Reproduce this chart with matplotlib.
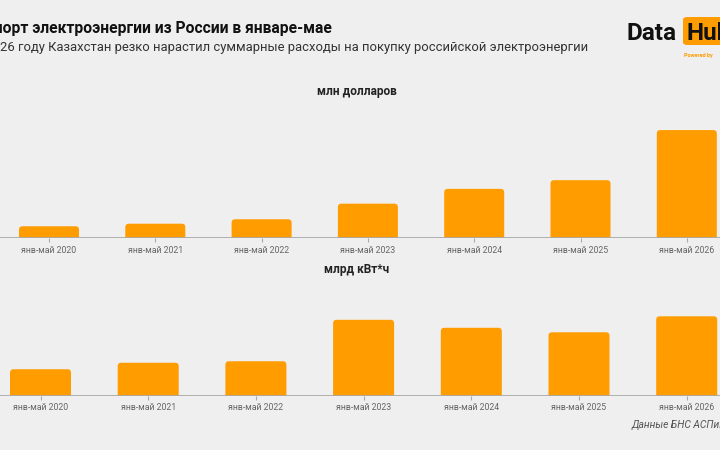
import matplotlib
matplotlib.use("Agg")
import matplotlib.pyplot as plt
from matplotlib.patches import FancyBboxPatch

categories = ["янв-май 2020", "янв-май 2021", "янв-май 2022", "янв-май 2023",
              "янв-май 2024", "янв-май 2025", "янв-май 2026"]
usd_mln = [10.8, 13.1, 17.1, 31.1, 44.4, 52.2, 97.2]
kwh_bn = [0.53, 0.66, 0.69, 1.52, 1.36, 1.27, 1.59]

title = "Импорт электроэнергии из России в январе-мае"
subtitle = "В 2026 году Казахстан резко нарастил суммарные расходы на покупку российской электроэнергии"
panel1 = "млн долларов"
panel2 = "млрд кВт*ч"
source = "Данные БНС АСПиР РК"

BG = "#efefef"
ORANGE = "#ff9c00"
FONT = ["Roboto", "DejaVu Sans"]
plt.rcParams["font.family"] = FONT

W, H = 720, 450
fig = plt.figure(figsize=(7.2, 4.5), dpi=100, facecolor=BG)


def px_axes(left, top, right, bottom):
    return fig.add_axes([left / W, 1 - bottom / H, (right - left) / W, (bottom - top) / H])


def draw_panel(ax, values, first_center, step, bar_px, top_px, bottom_px, ymax):
    n = len(values)
    ax.set_facecolor(BG)
    ax.set_xlim(-first_center / step, (W - first_center) / step)
    ax.set_ylim(0, ymax)
    width = bar_px / step
    ppx_y = ymax / (bottom_px - top_px)
    ppx_x = 1 / step
    r = 3.5 * ppx_x
    aspect = ppx_y / ppx_x
    for i, v in enumerate(values):
        p = FancyBboxPatch((i - width / 2, -ymax * 0.1), width, v + ymax * 0.1,
                           boxstyle=f"round,pad=0,rounding_size={r}",
                           mutation_aspect=aspect, facecolor=ORANGE, edgecolor="none",
                           zorder=2)
        ax.add_patch(p)
    ax.axhline(0, color="#aaaaaa", lw=1.3, zorder=3)
    for s in ax.spines.values():
        s.set_visible(False)
    ax.set_yticks([])
    ax.set_xticks(range(n))
    ax.set_xticklabels(categories, fontsize=6.3, color="#666666")
    ax.tick_params(axis="x", length=3, width=0.8, color="#aaaaaa", pad=2.5)


ax1 = px_axes(0, 100, W, 238.3)
draw_panel(ax1, usd_mln, 49, 106.3, 60, 100, 238.3, 124.2)

ax2 = px_axes(0, 285, W, 395.7)
draw_panel(ax2, kwh_bn, 40.5, 107.7, 61, 285, 395.7, 2.217)

# Titles
fig.text(332 / W, 1 - 29 / H, title, ha="right", va="center", fontsize=11.25,
         fontweight="bold", color="#111111")
fig.text(588 / W, 1 - 47 / H, subtitle, ha="right", va="center", fontsize=9.4,
         color="#333333")
fig.text(357 / W, 1 - 91.7 / H, panel1, ha="center", va="center", fontsize=8.6,
         fontweight="bold", color="#222222")
fig.text(357 / W, 1 - 270 / H, panel2, ha="center", va="center", fontsize=8.6,
         fontweight="bold", color="#222222")
fig.text(632 / W, 1 - 425 / H, source, ha="left", va="center", fontsize=7.4,
         style="italic", color="#555555")

# Logo
fig.text(626 / W, 1 - 33 / H, "Data", ha="left", va="center", fontsize=17.5,
         fontweight="bold", color="#111111")
logo_box = FancyBboxPatch((683 / W, 1 - 45 / H), 60 / W, 28 / H,
                          boxstyle="round,pad=0,rounding_size=0.006",
                          transform=fig.transFigure, facecolor=ORANGE,
                          edgecolor="none", zorder=1)
fig.patches.append(logo_box)
fig.text(686 / W, 1 - 33 / H, "Hub", ha="left", va="center", fontsize=17.5,
         fontweight="bold", color="#111111", zorder=2)
fig.text(684 / W, 1 - 56 / H, "Powered by", ha="left", va="center", fontsize=4,
         fontweight="bold", color=ORANGE)

fig.savefig("out.png", dpi=100, facecolor=BG)
